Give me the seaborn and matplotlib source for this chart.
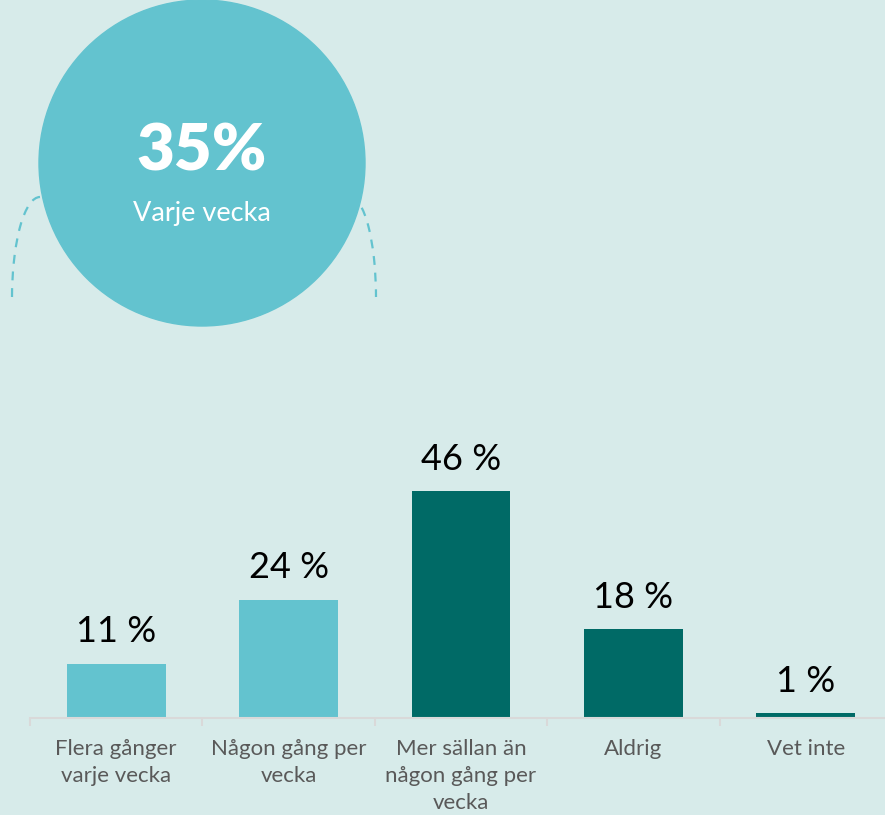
import matplotlib
matplotlib.use("Agg")
import matplotlib.pyplot as plt
from matplotlib.patches import Ellipse, Arc
import seaborn as sns
import pandas as pd

categories = ["Flera gånger\nvarje vecka", "Någon gång per\nvecka",
              "Mer sällan än\nnågon gång per\nvecka", "Aldrig", "Vet inte"]
values = [11, 24, 46, 18, 1]
value_labels = ["11 %", "24 %", "46 %", "18 %", "1 %"]
bar_colors = ["#63C3CF", "#63C3CF", "#006A66", "#006A66", "#006A66"]
headline_value = "35%"
headline_text = "Varje vecka"

BG = "#D7EBEA"
LIGHT = "#63C3CF"

sns.set_theme(style="white")
plt.rcParams["font.family"] = ["Lato", "DejaVu Sans"]

W, H = 885, 815
fig = plt.figure(figsize=(W / 100, H / 100), dpi=100, facecolor=BG)

# overlay in pixel coordinates for the circle decoration
ov = fig.add_axes([0, 0, 1, 1], zorder=0)
ov.set_xlim(0, W)
ov.set_ylim(H, 0)
ov.axis("off")
ov.patch.set_alpha(0)
ov.add_patch(Arc((40, 297), 56, 200, theta1=180, theta2=270, color=LIGHT,
                 lw=1.6, ls=(0, (4, 3.5)), zorder=1))
ov.add_patch(Arc((350, 297), 52, 200, theta1=270, theta2=360, color=LIGHT,
                 lw=1.6, ls=(0, (4, 3.5)), zorder=1))
ov.add_patch(Ellipse((202, 163), 326, 326, color=LIGHT, zorder=2))
ov.text(202, 152, headline_value, color="white", fontsize=47, fontweight="heavy",
        ha="center", va="center", zorder=3)
ov.text(202, 214, headline_text, color="white", fontsize=19.5,
        ha="center", va="center", zorder=3)

# bar chart
left, right_px = 30, 892
base = 718
ppu = 4.93
ymax = 60
ax = fig.add_axes([left / W, (H - base) / H, (right_px - left) / W, ymax * ppu / H], zorder=1)
ax.patch.set_alpha(0)
df = pd.DataFrame({"cat": categories, "val": values})
sns.barplot(data=df, x="cat", y="val", hue="cat", palette=bar_colors,
            legend=False, width=0.574, saturation=1, linewidth=0, ax=ax)
ax.set_xlim(-0.5, 4.5)
ax.set_ylim(0, ymax)
for i, (v, lab) in enumerate(zip(values, value_labels)):
    ax.annotate(lab, (i, v), xytext=(0, 11), textcoords="offset points",
                ha="center", va="bottom", fontsize=26, color="black")
for s in ["top", "right", "left"]:
    ax.spines[s].set_visible(False)
ax.spines["bottom"].set_color("#D9D9D9")
ax.spines["bottom"].set_linewidth(1.5)
ax.set_yticks([])
ax.set_xlabel("")
ax.set_ylabel("")
ax.set_xticks(range(len(categories)))
ax.set_xticklabels(categories, fontsize=16, color="#595959", linespacing=1.45, va="top")
ax.tick_params(axis="x", which="major", length=0, pad=15)
ax.set_xticks([i - 0.5 for i in range(len(categories) + 1)], minor=True)
ax.tick_params(axis="x", which="minor", length=6, width=1.5, color="#D9D9D9", direction="out", bottom=True)

fig.savefig("out.png", dpi=100, facecolor=BG)
